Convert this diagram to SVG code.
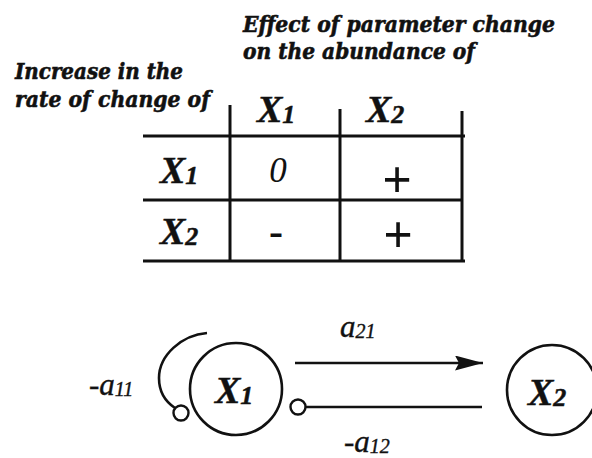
<svg xmlns="http://www.w3.org/2000/svg" width="592" height="458" viewBox="0 0 592 458">
<style>
.hd{font-family:"DejaVu Serif","Liberation Serif",serif;font-weight:bold;font-style:italic;font-size:23px;fill:#111;stroke:#111;stroke-width:0.6}
.x{font-family:"Liberation Serif",serif;font-weight:bold;font-style:italic;font-size:38px;fill:#111;stroke:#111;stroke-width:0.5}
.sub{font-size:26px}
.cell{font-family:"Liberation Serif",serif;fill:#111}
.lbl{font-family:"Liberation Serif",serif;font-style:italic;font-size:31px;fill:#111;stroke:#111;stroke-width:0.4}
.lsub{font-size:20px}
.rule{stroke:#111;stroke-width:3;fill:none}
.node{fill:none;stroke:#111;stroke-width:2.6}
.edge{fill:none;stroke:#111;stroke-width:2.6}
.dot{fill:#fff;stroke:#111;stroke-width:2.4}
</style>
<defs>
<marker id="ah" markerUnits="userSpaceOnUse" markerWidth="30" markerHeight="16" refX="28" refY="7.5" orient="auto"><path d="M0,0 L28,7.5 L0,15 L4,7.5 Z" fill="#111"/></marker>
</defs>
<rect width="592" height="458" fill="#fff"/>
<g id="col-header">
<text class="hd" x="243" y="32" textLength="312" lengthAdjust="spacingAndGlyphs">Effect of parameter change</text>
<text class="hd" x="243" y="59" textLength="232" lengthAdjust="spacingAndGlyphs">on the abundance of</text>
</g>
<g id="row-header">
<text class="hd" x="15" y="79" textLength="168" lengthAdjust="spacingAndGlyphs">Increase in the</text>
<text class="hd" x="15" y="107" textLength="195" lengthAdjust="spacingAndGlyphs">rate of change of</text>
</g>
<g id="table-rules">
<line class="rule" x1="143" y1="136" x2="465" y2="136"/>
<line class="rule" x1="143" y1="200" x2="462" y2="200"/>
<line class="rule" x1="143" y1="261" x2="465" y2="261"/>
<line class="rule" x1="230" y1="105" x2="230" y2="262"/>
<line class="rule" x1="340" y1="109" x2="340" y2="262"/>
<line class="rule" x1="462" y1="111" x2="462" y2="262"/>
</g>
<g id="table-labels">
<text class="x" x="257" y="122">X<tspan class="sub" dy="1">1</tspan></text>
<text class="x" x="366" y="122">X<tspan class="sub" dy="1">2</tspan></text>
<text class="x" x="160" y="183">X<tspan class="sub" dy="1">1</tspan></text>
<text class="x" x="160" y="244">X<tspan class="sub" dy="1">2</tspan></text>
</g>
<g id="table-cells">
<text class="cell" x="278" y="182" text-anchor="middle" font-size="35" font-style="italic">0</text>
<text class="cell" x="397" y="197" text-anchor="middle" font-size="52" font-weight="bold">+</text>
<text class="cell" x="276" y="245" text-anchor="middle" font-size="42" font-weight="bold">-</text>
<text class="cell" x="398" y="252" text-anchor="middle" font-size="52" font-weight="bold">+</text>
</g>
<g id="connectors">
<path class="edge" d="M207,333 C182,335 159,355 159,378 C159,392 166,402 175,408"/>
<circle class="dot" cx="181" cy="413" r="7.5"/>
<line class="edge" x1="295" y1="363" x2="483" y2="363" stroke-width="3" marker-end="url(#ah)"/>
<line class="edge" x1="305" y1="407" x2="482" y2="407"/>
<circle class="dot" cx="298" cy="407" r="7.5"/>
</g>
<g id="edge-labels">
<text class="lbl" x="89" y="395">-a<tspan class="lsub" dy="1">11</tspan></text>
<text class="lbl" x="340" y="337">a<tspan class="lsub" dy="1">21</tspan></text>
<text class="lbl" x="344" y="452">-a<tspan class="lsub" dy="1">12</tspan></text>
</g>
<g id="node-X1">
<circle class="node" cx="236" cy="389" r="46"/>
<text class="x" x="215" y="403" font-size="40">X<tspan class="sub" dy="1">1</tspan></text>
</g>
<g id="node-X2">
<circle class="node" cx="552" cy="390" r="45"/>
<text class="x" x="528" y="405" font-size="40">X<tspan class="sub" dy="1">2</tspan></text>
</g>
</svg>
